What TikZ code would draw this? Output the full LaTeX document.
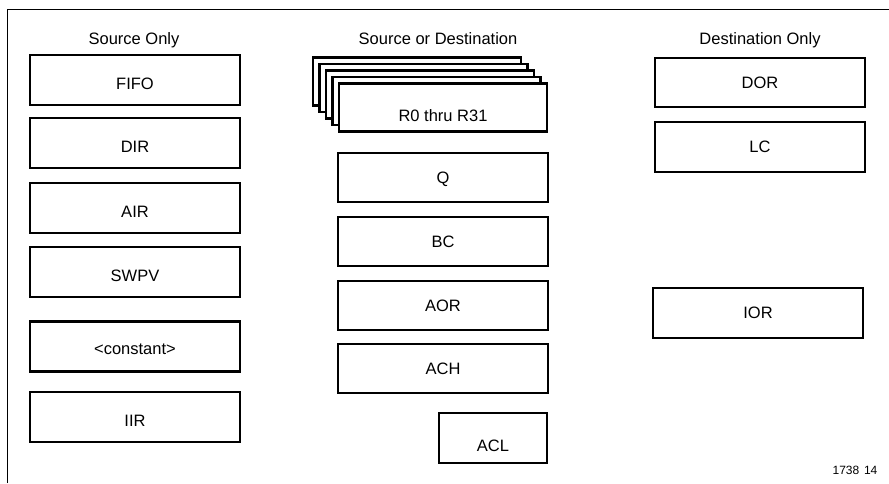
\documentclass[tikz,border=0pt]{standalone}
\usepackage{fontspec}
\setmainfont{Liberation Sans}
\begin{document}
\begin{tikzpicture}[x=1pt,y=-1pt,
  regbox/.style={draw, line width=2.2pt, fill=white, inner sep=0pt,
    minimum width=210pt, minimum height=50pt,
    font=\fontsize{16.5}{19}\selectfont, text height=11.8pt, text depth=0pt},
  lowtext/.style={text height=#1},
  coltitle/.style={anchor=base, inner sep=0pt, font=\fontsize{16.5}{19}\selectfont},
  framestyle/.style={line width=1pt}]
\useasboundingbox (0,0) rectangle (889,483);
% frame
\draw[framestyle] (7,483) -- (7,9) -- (889,9);
% column titles
\node[coltitle] (t1) at (134,44) {Source Only};
\node[coltitle] (t2) at (438,44) {Source or Destination};
\node[coltitle] (t3) at (760,44) {Destination Only};
% source only
\node[regbox, lowtext=18.5pt] (fifo) at (135,80) {FIFO};
\node[regbox, lowtext=18.5pt] (dir) at (135,143) {DIR};
\node[regbox, lowtext=18.5pt] (air) at (135,208) {AIR};
\node[regbox, lowtext=18.5pt] (swpv) at (135,272) {SWPV};
\node[regbox, lowtext=16pt] (const) at (135,346.5) {<constant>};
\node[regbox, lowtext=18.5pt] (iir) at (135,417) {IIR};
% source or destination
\node[regbox, minimum width=208pt, minimum height=48pt] (r4) at (417,81.5) {};
\node[regbox, minimum width=208pt, minimum height=48pt] (r3) at (423.5,88) {};
\node[regbox, minimum width=208pt, minimum height=48pt] (r2) at (430,94.5) {};
\node[regbox, minimum width=208pt, minimum height=48pt] (r1) at (436.5,101) {};
\node[regbox, minimum width=208pt, minimum height=48pt, lowtext=27pt] (r0) at (443,107.5) {R0 thru R31};
\node[regbox, minimum height=49pt] (q) at (443,177.5) {Q};
\node[regbox, minimum height=49pt] (bc) at (443,241.5) {BC};
\node[regbox, minimum height=49pt] (aor) at (443,305.5) {AOR};
\node[regbox, minimum height=49pt] (ach) at (443,368.5) {ACH};
\node[regbox, minimum width=108pt, lowtext=27pt] (acl) at (493,438) {ACL};
% destination only
\node[regbox, minimum height=49pt] (dor) at (760,82.5) {DOR};
\node[regbox] (lc) at (760,147) {LC};
\node[regbox] (ior) at (758,313) {IOR};
% figure number
\node[anchor=base, inner sep=0pt, font=\fontsize{12}{14}\selectfont] (fig) at (855,474) {1738\hspace{0.4em}14};
\end{tikzpicture}
\end{document}
